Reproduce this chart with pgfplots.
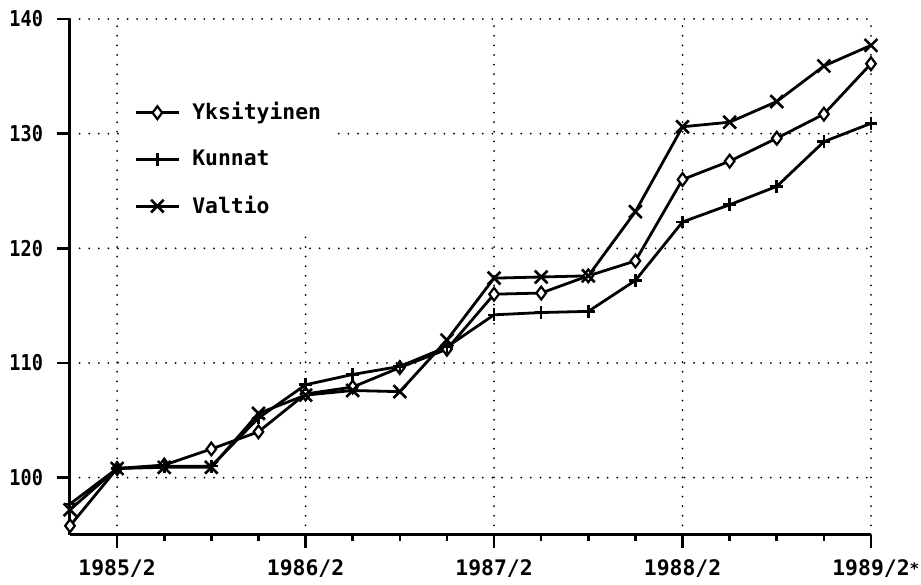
\documentclass[border=0pt]{standalone}
\usepackage{fontspec}
\setmainfont{DejaVu Sans Mono}
\newfontfamily\ylabfont{DejaVu Sans Mono}[FakeStretch=0.85]
\usepackage{pgfplots}
\usepackage{pgfplotstable}
\pgfplotsset{compat=1.18}
\pgfplotstableread{
x yks kun val
0 95.8 97.7 97.2
1 100.8 100.8 100.8
2 101.1 101.0 100.9
3 102.5 101.0 100.9
4 104.0 105.2 105.6
5 107.3 108.1 107.2
6 107.9 109.0 107.6
7 109.6 109.7 107.5
8 111.2 111.4 112.0
9 116.0 114.2 117.4
10 116.1 114.4 117.5
11 117.6 114.5 117.6
12 118.9 117.2 123.2
13 126.0 122.3 130.6
14 127.6 123.8 131.0
15 129.6 125.4 132.8
16 131.7 129.3 135.9
17 136.1 130.9 137.7
}\data
\begin{document}
\begin{tikzpicture}
\begin{axis}[
  name=ax,
  scale only axis, width=400.5pt, height=258pt,
  xmin=0, xmax=17, ymin=95, ymax=140,
  axis lines=left,
  axis line style={-, line width=1.5pt},
  xtick={1,5,9,13},
  xticklabels={1985/2,1986/2,1987/2,1988/2},
  extra x ticks={17},
  extra x tick labels={1989/2\rlap{\raisebox{0.15ex}{\fontsize{8}{9}\selectfont*}}},
  extra x tick style={grid=major},
  minor xtick={2,3,4,6,7,8,10,11,12,14,15,16},
  ytick={100,110,120,130,140},
  grid=major,
  major grid style={black, line width=1pt, dash pattern=on 0pt off 4.8pt, line cap=round},
  tick align=outside,
  major tick length=6.5pt, minor tick length=3pt,
  tick style={black, line width=1.3pt},
  xticklabel style={font=\bfseries\fontsize{10.7}{12}\selectfont, yshift=-2.5pt},
  yticklabel style={font=\ylabfont\bfseries\fontsize{10.9}{12}\selectfont, xshift=-3.5pt},
  /pgf/number format/assume math mode=true,
  clip=false,
  legend cell align=left,
  legend style={draw=none, fill=none, at={(axis cs:1.36,133.1)}, anchor=north west,
    inner sep=0pt, row sep=9.6pt, font=\bfseries\fontsize{10.7}{12}\selectfont,
    /tikz/every odd column/.append style={column sep=4pt}},
  legend image code/.code={\draw[mark repeat=2,mark phase=2] plot coordinates {(0pt,0pt) (10.75pt,0pt) (21.5pt,0pt)};},
]
\fill[white] (axis cs:1.06,121.4) rectangle (axis cs:5.66,139.7);
\addplot[black, line width=1.4pt, mark=diamond*, mark size=3.2pt, mark options={solid, fill=white, line width=1.1pt}] table[x=x,y=yks] {\data};
\addlegendentry{Yksityinen}
\addplot[black, line width=1.4pt, mark=+, mark size=3.2pt, mark options={solid, line width=1.3pt}] table[x=x,y=kun] {\data};
\addlegendentry{Kunnat}
\addplot[black, line width=1.4pt, mark=x, mark size=4.5pt, mark options={solid, line width=1.3pt}] table[x=x,y=val] {\data};
\addlegendentry{Valtio}
\end{axis}
\path ([xshift=-35pt,yshift=-22.5pt]ax.south west) rectangle ([xshift=25pt,yshift=9.5pt]ax.north east);
\end{tikzpicture}
\end{document}
